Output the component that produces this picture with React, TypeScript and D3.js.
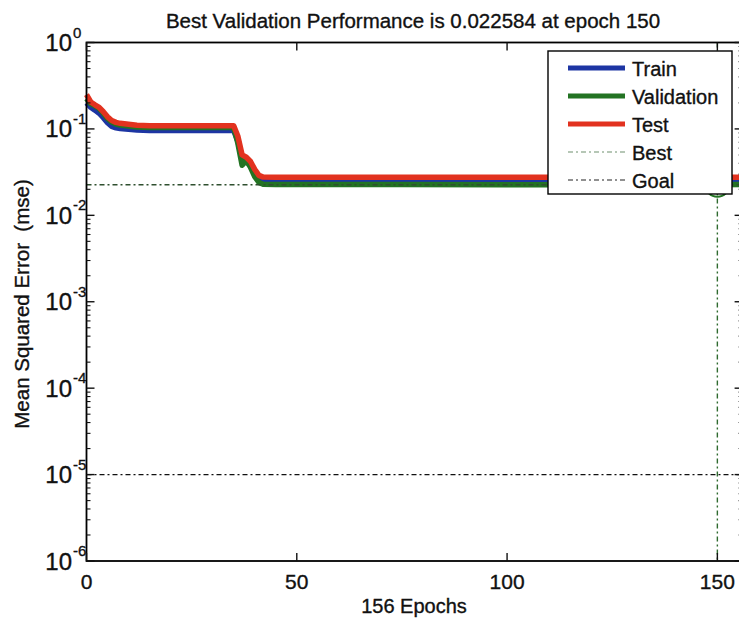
import * as d3 from "d3";

const epochs = [0, 1, 2, 3, 4, 5, 6, 7, 8, 10, 12, 15, 20, 25, 30, 35, 36, 37, 38, 39, 40, 41, 42, 45, 50, 75, 100, 125, 150, 156];
const trainPerf = [0.2, 0.178, 0.165, 0.152, 0.135, 0.118, 0.107, 0.103, 0.101, 0.099, 0.097, 0.096, 0.096, 0.096, 0.096, 0.096, 0.072, 0.044, 0.043, 0.037, 0.03, 0.026, 0.025, 0.0249, 0.0248, 0.0247, 0.0247, 0.0246, 0.0246, 0.0246];
const valPerf = [0.225, 0.195, 0.185, 0.172, 0.152, 0.132, 0.12, 0.114, 0.111, 0.108, 0.105, 0.104, 0.104, 0.104, 0.104, 0.104, 0.068, 0.038, 0.043, 0.036, 0.028, 0.024, 0.0229, 0.0228, 0.0227, 0.0227, 0.0226, 0.0226, 0.022584, 0.0227];
const testPerf = [0.25, 0.205, 0.19, 0.178, 0.158, 0.138, 0.125, 0.119, 0.116, 0.113, 0.11, 0.109, 0.109, 0.109, 0.109, 0.109, 0.082, 0.05, 0.047, 0.042, 0.034, 0.029, 0.0277, 0.0276, 0.0276, 0.0276, 0.0276, 0.0276, 0.0276, 0.0276];

const bestEpoch = 150;
const bestPerf = 0.022584;
const goal = 1e-5;
const totalEpochs = 156;
const xTicks = [0, 50, 100, 150];
const yExponents = [0, -1, -2, -3, -4, -5, -6];

const legendItems = [
  { label: "Train", color: "#1d35a3", width: 5, dash: null },
  { label: "Validation", color: "#237323", width: 5, dash: null },
  { label: "Test", color: "#e2321f", width: 5, dash: null },
  { label: "Best", color: "#6f8f6f", width: 1.2, dash: "5,3,2,3" },
  { label: "Goal", color: "#222", width: 1.2, dash: "5,3,2,3" },
];

const W = 739, H = 624;
const font = "'Liberation Sans', Arial, sans-serif";

export default function App() {
  const x = d3.scaleLinear([0, totalEpochs], [86.5, 742.6]);
  const y = d3.scaleLog([1e-6, 1], [561, 42.5]);
  const line = d3.line<number>().x((_, i) => x(epochs[i])).y((d) => y(d));

  const minor: number[] = [];
  for (let e = -6; e < 0; e++) for (let k = 2; k <= 9; k++) minor.push(k * Math.pow(10, e));

  const x0 = x(0), x1 = x(totalEpochs), yTop = y(1), yBot = y(1e-6);

  return (
    <svg width={W} height={H} style={{ position: "absolute", left: 0, top: 0, background: "#fff" }} fontFamily={font}>
      <rect width={W} height={H} fill="#fff" />
      {/* data */}
      <g fill="none" strokeWidth={5.5} strokeLinejoin="round">
        <path d={line(trainPerf) || ""} stroke={legendItems[0].color} />
        <path d={line(valPerf) || ""} stroke={legendItems[1].color} />
        <path d={line(testPerf) || ""} stroke={legendItems[2].color} />
      </g>
      {/* best & goal */}
      <line x1={x0} x2={x1} y1={y(bestPerf)} y2={y(bestPerf)} stroke="#2f4f2f" strokeWidth={1.4} strokeDasharray="5,3,2,3" />
      <line x1={x(bestEpoch)} x2={x(bestEpoch)} y1={yTop} y2={yBot} stroke="#2f6a2f" strokeWidth={1.4} strokeDasharray="5,3,2,3" />
      <line x1={x0} x2={x1} y1={y(goal)} y2={y(goal)} stroke="#111" strokeWidth={1.4} strokeDasharray="5,3,2,3" />
      <circle cx={x(bestEpoch)} cy={y(bestPerf)} r={12} fill="none" stroke="#237323" strokeWidth={2} />
      {/* frame */}
      <rect x={x0} y={yTop} width={x1 - x0} height={yBot - yTop} fill="none" stroke="#000" strokeWidth={1.8} />
      <g fill="#111" stroke="#111" strokeWidth={0.35}>
        {/* x ticks */}
        {xTicks.map((t) => (
          <g key={t}>
            <line x1={x(t)} x2={x(t)} y1={yBot} y2={yBot - 8} strokeWidth={1.4} />
            <line x1={x(t)} x2={x(t)} y1={yTop} y2={yTop + 8} strokeWidth={1.4} />
            <text x={x(t)} y={589} textAnchor="middle" fontSize={21}>{t}</text>
          </g>
        ))}
        {/* y ticks */}
        {yExponents.map((e) => {
          const yy = y(Math.pow(10, e));
          return (
            <g key={e}>
              <line x1={x0} x2={x0 + 8} y1={yy} y2={yy} strokeWidth={1.4} />
              <line x1={x1} x2={x1 - 8} y1={yy} y2={yy} strokeWidth={1.4} />
              <text x={72} y={yy + 8.5} textAnchor="end" fontSize={24}>10</text>
              <text x={73} y={yy - 5} fontSize={15}>{e}</text>
            </g>
          );
        })}
        {minor.map((v) => (
          <g key={v}>
            <line x1={x0} x2={x0 + 4} y1={y(v)} y2={y(v)} strokeWidth={1.1} />
            <line x1={x1} x2={x1 - 4} y1={y(v)} y2={y(v)} strokeWidth={1.1} />
          </g>
        ))}
        {/* labels */}
        <text x={413} y={28} textAnchor="middle" fontSize={20.5}>Best Validation Performance is 0.022584 at epoch 150</text>
        <text x={414} y={613} textAnchor="middle" fontSize={20}>{totalEpochs} Epochs</text>
        <text transform="translate(29,304) rotate(-90)" textAnchor="middle" fontSize={20.5} style={{ whiteSpace: "pre" }}>Mean Squared Error  (mse)</text>
      </g>
      {/* legend */}
      <rect x={548} y={51} width={184} height={143} fill="#fff" stroke="#000" strokeWidth={1.4} />
      {legendItems.map((it, i) => {
        const ly = 68 + i * 28;
        return (
          <g key={it.label}>
            <line x1={568} x2={625} y1={ly} y2={ly} stroke={it.color} strokeWidth={it.width} strokeDasharray={it.dash || undefined} />
            <text x={632} y={ly + 7.5} fontSize={20} fill="#111" stroke="#111" strokeWidth={0.35}>{it.label}</text>
          </g>
        );
      })}
    </svg>
  );
}
